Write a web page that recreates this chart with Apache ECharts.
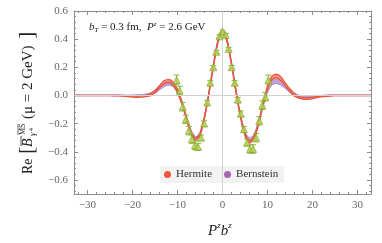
<!DOCTYPE html>
<html><head><meta charset="utf-8">
<script src="https://cdn.jsdelivr.net/npm/echarts@6/dist/echarts.min.js"></script>
<style>html,body{margin:0;padding:0;background:#fff}#c{width:382px;height:243px}</style>
</head><body><div id="c"></div>
<script>
// sample positions of the bands (P^z b^z)
var xs = [-33,-30,-27,-25,-24,-23,-22,-21,-20,-19,-18,-17,-16,-15,-14,-13,-12,-11,-10,-9,-8,-7,-6,-5,-4,-3,-2,-1,0,1,2,3,4,5,6,7,8,9,10,11,12,13,14,15,16,17,18,19,20,21,22,23,24,25,27,30,33];
var hermiteLo = [-0.002,-0.002,-0.002,-0.002,-0.003,-0.004,-0.006,-0.008,-0.012,-0.013,-0.012,-0.008,-0.001,0.02,0.054,0.08,0.091,0.073,0.018,-0.063,-0.173,-0.273,-0.318,-0.283,-0.163,0.012,0.207,0.377,0.444,0.382,0.217,0.022,-0.158,-0.288,-0.338,-0.308,-0.208,-0.073,0.042,0.112,0.125,0.105,0.068,0.026,-0.005,-0.02,-0.028,-0.028,-0.023,-0.015,-0.01,-0.007,-0.005,-0.002,-0.002,-0.002,-0.002];
var hermiteHi = [0.002,0.002,0.002,0.002,0.003,0.002,0.0,-0.002,-0.002,-0.003,-0.002,0.002,0.015,0.036,0.07,0.104,0.115,0.097,0.042,-0.047,-0.157,-0.257,-0.302,-0.267,-0.147,0.028,0.223,0.393,0.46,0.398,0.233,0.038,-0.142,-0.272,-0.322,-0.292,-0.192,-0.057,0.068,0.138,0.151,0.131,0.088,0.046,0.015,-0.008,-0.016,-0.016,-0.011,-0.007,-0.002,0.001,0.003,0.002,0.002,0.002,0.002];
var bernsteinLo = [-0.002,-0.002,-0.002,-0.002,-0.003,-0.003,-0.003,-0.003,-0.004,-0.003,-0.002,-0.002,0.002,0.015,0.038,0.061,0.073,0.063,0.016,-0.062,-0.167,-0.267,-0.317,-0.287,-0.167,0.008,0.203,0.373,0.44,0.378,0.213,0.018,-0.157,-0.282,-0.33,-0.305,-0.207,-0.082,0.021,0.075,0.084,0.073,0.048,0.02,0.0,-0.01,-0.014,-0.014,-0.01,-0.008,-0.005,-0.004,-0.003,-0.002,-0.002,-0.002,-0.002];
var bernsteinHi = [0.002,0.002,0.002,0.002,0.003,0.003,0.003,0.003,0.004,0.005,0.006,0.01,0.018,0.035,0.062,0.089,0.103,0.093,0.044,-0.038,-0.143,-0.243,-0.293,-0.263,-0.143,0.032,0.227,0.397,0.464,0.402,0.237,0.042,-0.133,-0.258,-0.3,-0.275,-0.183,-0.058,0.049,0.105,0.116,0.103,0.072,0.04,0.016,0.002,-0.002,-0.002,-0.002,0.0,0.001,0.002,0.003,0.002,0.002,0.002,0.002];
// lattice data points
var pointX = [-10.2,-9.52,-8.84,-8.16,-7.48,-6.8,-6.12,-5.44,-4.76,-4.08,-3.4,-2.72,-2.04,-1.36,-0.68,0,0.68,1.36,2.04,2.72,3.4,4.08,4.76,5.44,6.12,6.8,7.48,8.16,8.84,9.52,10.2];
var pointY = [0.11,0.035,-0.08,-0.17,-0.25,-0.31,-0.355,-0.365,-0.3,-0.2,-0.05,0.09,0.2,0.31,0.42,0.455,0.43,0.33,0.2,0.09,-0.03,-0.13,-0.24,-0.335,-0.38,-0.38,-0.3,-0.18,-0.07,-0.01,0.11];
var pointErr = [0.035,0.03,0.03,0.03,0.03,0.03,0.03,0.025,0.02,0.02,0.015,0.015,0.012,0.01,0.01,0.01,0.01,0.01,0.012,0.015,0.015,0.02,0.02,0.025,0.03,0.03,0.03,0.03,0.03,0.03,0.035];
// ticks
var xMajor = [-30,-20,-10,0,10,20,30];
var xMinor = [-32,-28,-26,-24,-22,-18,-16,-14,-12,-8,-6,-4,-2,2,4,6,8,12,14,16,18,22,24,26,28,32];
var yMajor = [-0.6,-0.4,-0.2,0,0.2,0.4,0.6];
var yMinor = [-0.68,-0.64,-0.56,-0.52,-0.48,-0.44,-0.36,-0.32,-0.28,-0.24,-0.16,-0.12,-0.08,-0.04,0.04,0.08,0.12,0.16,0.24,0.28,0.32,0.36,0.44,0.48,0.52,0.56];

function pairs(x, y){ return x.map(function(v,i){return [v,y[i]];}); }
function triples(x, lo, hi){ return x.map(function(v,i){return [v, lo[i], hi[i]];}); }
function minus(v){ return v < 0 ? '\u2212' + String(Math.abs(v)) : String(v); }

var SERIF = '"Liberation Serif","DejaVu Serif",serif';
var frame = '#8c8c8c';
function xAx(pos, ticks, len, labels){
  return {type:'value', min:-33, max:33, position:pos, splitLine:{show:false},
    axisLine:{show:labels!==null, lineStyle:{color:frame, width:1}, onZero:false},
    axisTick:{show:true, inside:true, length:len, customValues:ticks, lineStyle:{color:frame}},
    axisLabel:labels ? {show:true, customValues:xMajor, formatter:function(v){return minus(v);}, color:'#666', fontFamily:SERIF, fontSize:11, margin:6} : {show:false}};
}
function yAx(pos, ticks, len, labels){
  return {type:'value', min:-0.7, max:0.6, position:pos, splitLine:{show:false},
    axisLine:{show:labels!==null, lineStyle:{color:frame, width:1}, onZero:false},
    axisTick:{show:true, inside:true, length:len, customValues:ticks, lineStyle:{color:frame}},
    axisLabel:labels ? {show:true, customValues:yMajor, formatter:function(v){var s=Math.abs(v).toFixed(1); return (v<-1e-9?'\u2212':'')+s;}, color:'#666', fontFamily:SERIF, fontSize:11, margin:6} : {show:false}};
}

// band renderer: draws the whole band once all items are known
function bandRenderer(fill, edge, edgeWidth){
  return function(params, api){
    var n = params.dataInsideLength;
    if (params.dataIndexInside !== n - 1) return null;
    var up = [], dn = [];
    for (var i = 0; i < n; i++) {
      var x = api.value(0, i);
      up.push(api.coord([x, api.value(2, i)]));
      dn.push(api.coord([x, api.value(1, i)]));
    }
    var poly = up.concat(dn.slice().reverse());
    return {type:'group', children:[
      {type:'polygon', shape:{points:poly, smooth:0.25}, style:{fill:fill, stroke:null}},
      {type:'polyline', shape:{points:up, smooth:0.25}, style:{stroke:edge, lineWidth:edgeWidth, fill:null}},
      {type:'polyline', shape:{points:dn, smooth:0.25}, style:{stroke:edge, lineWidth:edgeWidth, fill:null}}
    ]};
  };
}

var chart = echarts.init(document.getElementById('c'), null, {renderer:'canvas'});
var herm = '#e8553f', bern = '#a97cc2';
chart.setOption({
  animation:false,
  grid:{left:74, right:11, top:11, bottom:49, outerBoundsMode:'none', containLabel:false},
  xAxis:[xAx('bottom', xMajor, 4, true), xAx('bottom', xMinor, 2, null), xAx('top', xMajor, 4, false), xAx('top', xMinor, 2, null)],
  yAxis:[yAx('left', yMajor, 4, true), yAx('left', yMinor, 2, null), yAx('right', yMajor, 4, false), yAx('right', yMinor, 2, null)],
  legend:{left:160, top:166, orient:'horizontal', selectedMode:false, backgroundColor:'#f2f2f2', padding:[3,6,3,4],
    itemWidth:7, itemHeight:7, itemGap:12, textStyle:{fontFamily:SERIF, fontSize:11, color:'#333'},
    data:[{name:'Hermite', icon:'circle', itemStyle:{color:'#f0553c'}}, {name:'Bernstein', icon:'circle', itemStyle:{color:'#a664b4'}}]},
  series:[
    {type:'line', name:'zero', data:[], silent:true, z:1,
      markLine:{silent:true, symbol:['none','none'], label:{show:false}, animation:false,
        lineStyle:{color:'#d2d2d2', width:1, type:'solid'}, emphasis:{disabled:true},
        data:[{xAxis:0},{yAxis:0}]}},
    {type:'custom', name:'Bernstein', z:2, silent:true, clip:true,
      data:triples(xs, bernsteinLo, bernsteinHi), encode:{x:0, y:[1,2]},
      renderItem:bandRenderer('rgba(180,140,208,0.8)', bern, 0.8)},
    {type:'custom', name:'Hermite', z:3, silent:true, clip:true,
      data:triples(xs, hermiteLo, hermiteHi), encode:{x:0, y:[1,2]},
      renderItem:bandRenderer('rgba(243,120,100,0.8)', herm, 1.2)},
    {type:'custom', name:'err', z:4, silent:true,
      data:pointX.map(function(v,i){return [v, pointY[i], pointErr[i]];}),
      encode:{x:0, y:1},
      renderItem:function(params, api){
        var x = api.value(0), y = api.value(1), e = api.value(2);
        var top = api.coord([x, y+e]), bot = api.coord([x, y-e]);
        var st = {stroke:'#93b437', lineWidth:1};
        return {type:'group', children:[
          {type:'line', shape:{x1:top[0], y1:top[1], x2:bot[0], y2:bot[1]}, style:st},
          {type:'line', shape:{x1:top[0]-3, y1:top[1], x2:top[0]+3, y2:top[1]}, style:st},
          {type:'line', shape:{x1:bot[0]-3, y1:bot[1], x2:bot[0]+3, y2:bot[1]}, style:st}
        ]};
      }},
    {type:'scatter', name:'data', z:5, silent:true, data:pairs(pointX, pointY), symbol:'triangle', symbolSize:7,
      itemStyle:{color:'#b3cf52', borderColor:'#84a42a', borderWidth:0.8}}
  ],
  graphic:[
    {type:'text', left:89, top:21, silent:true,
      style:{text:'{i|b}{s|T}{n| = 0.3 fm,  }{i|P}{u|z}{n| = 2.6 GeV}', fill:'#222',
        rich:{
          i:{fontFamily:SERIF, fontStyle:'italic', fontSize:11, fill:'#222', verticalAlign:'middle', lineHeight:13},
          n:{fontFamily:SERIF, fontSize:11, fill:'#222', verticalAlign:'middle', lineHeight:13},
          s:{fontFamily:SERIF, fontStyle:'italic', fontSize:7, fill:'#222', verticalAlign:'bottom', lineHeight:13},
          u:{fontFamily:SERIF, fontStyle:'italic', fontSize:7, fill:'#222', verticalAlign:'top', lineHeight:13}
        }}},
    {type:'text', x:208, y:221, silent:true,
      style:{text:'{i|P}{u|z}{i|b}{u|z}', rich:{
          i:{fontFamily:SERIF, fontStyle:'italic', fontSize:15, fill:'#222', verticalAlign:'bottom', lineHeight:18},
          u:{fontFamily:SERIF, fontStyle:'italic', fontSize:9, fill:'#222', verticalAlign:'top', lineHeight:18}
        }}},
    {type:'group', x:28, y:103, rotation:Math.PI/2, silent:true, children:[
      {type:'text', x:-71, y:0, style:{text:'Re', font:'14px ' + SERIF, fill:'#222', verticalAlign:'middle', align:'left'}},
      {type:'text', x:-51, y:-1, style:{text:'[', font:'22px ' + SERIF, fill:'#222', verticalAlign:'middle', align:'left'}},
      {type:'text', x:-44, y:0, style:{text:'B', font:'italic 14px ' + SERIF, fill:'#222', verticalAlign:'middle', align:'left'}},
      {type:'line', shape:{x1:-43, y1:-7, x2:-33, y2:-7}, style:{stroke:'#222', lineWidth:0.8}},
      {type:'text', x:-32, y:-5, style:{text:'MS', font:'8px ' + SERIF, fill:'#222', verticalAlign:'middle', align:'left'}},
      {type:'line', shape:{x1:-32, y1:-10, x2:-21, y2:-10}, style:{stroke:'#222', lineWidth:0.7}},
      {type:'text', x:-33, y:5, style:{text:'\u03b3', font:'italic 9px ' + SERIF, fill:'#222', verticalAlign:'middle', align:'left'}},
      {type:'text', x:-28, y:3, style:{text:'4', font:'6px ' + SERIF, fill:'#222', verticalAlign:'middle', align:'left'}},
      {type:'text', x:-16, y:0, style:{text:'(\u03bc = 2 GeV)', font:'15px ' + SERIF, fill:'#222', verticalAlign:'middle', align:'left'}},
      {type:'text', x:64, y:-1, style:{text:']', font:'22px ' + SERIF, fill:'#222', verticalAlign:'middle', align:'left'}}
    ]}
  ]
});
</script>
</body></html>
